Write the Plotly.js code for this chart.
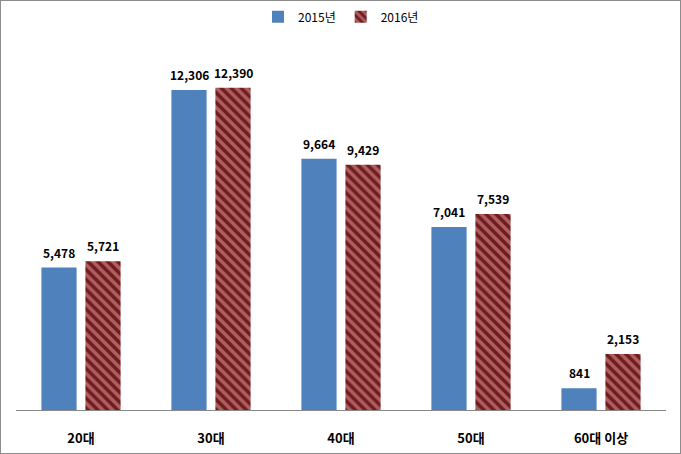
<!DOCTYPE html>
<html><head><meta charset="utf-8">
<script src="https://cdn.plot.ly/plotly-3.0.1.min.js"></script>
<style>html,body{margin:0;padding:0;background:#fff}#c{width:679px;height:452px;border:1px solid #8c8c8c}</style>
</head><body><div id="c"></div>
<script>
const categories = ['20대','30대','40대','50대','60대 이상'];
const y2015 = [5478, 12306, 9664, 7041, 841];
const y2016 = [5721, 12390, 9429, 7539, 2153];
const seriesNames = ['2015년','2016년'];
const fmt = v => v.toLocaleString('en-US');
const font = '"Noto Sans CJK KR", "Noto Sans", sans-serif';
const traces = [
 {type:'bar', name:seriesNames[0], x:categories, y:y2015, marker:{color:'#4F81BD'}},
 {type:'bar', name:seriesNames[1], x:categories, y:y2016,
  marker:{color:'#701C1E', pattern:{shape:'\\', bgcolor:'#701C1E', fgcolor:'#EBA3A3', size:7, solidity:0.5, fillmode:'overlay'}}}
];
const annotations = [];
[y2015, y2016].forEach((arr, s) => arr.forEach((v, i) => annotations.push({
  x: categories[i], y: v, xref:'x', yref:'y', text: fmt(v), showarrow:false,
  xshift: s === 0 ? -22 : 22, yshift: 5, yanchor:'bottom',
  font:{family:font, size:12, color:'#000', weight:'bold'}
})));
const layout = {
 width:679, height:452,
 margin:{l:15, r:14, t:45, b:43, autoexpand:false},
 paper_bgcolor:'#fff', plot_bgcolor:'#fff',
 barmode:'group', bargap:0.323, bargroupgap:0.2,
 font:{family:font, color:'#000'},
 showlegend:true,
 legend:{orientation:'h', x:0.5, xanchor:'center', y:1.12, yanchor:'top', font:{size:12, family:font}, itemwidth:30, traceorder:'normal'},
 annotations,
 xaxis:{showline:true, linecolor:'#888', linewidth:1, ticks:'outside', ticklen:16, tickcolor:'rgba(0,0,0,0)',
   tickfont:{size:13, family:font, weight:'bold'}, fixedrange:true},
 yaxis:{range:[0,14000], showgrid:false, showticklabels:false, zeroline:false, showline:false, fixedrange:true}
};
Plotly.newPlot('c', traces, layout, {displayModeBar:false, staticPlot:true});
</script></body></html>
